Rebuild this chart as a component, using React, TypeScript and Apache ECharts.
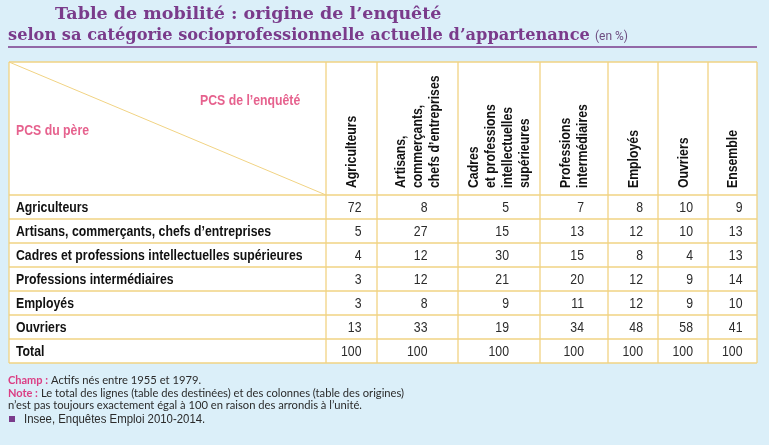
import React, { useEffect, useRef } from "react";
import * as echarts from "echarts";

const fatherCategories = [
  "Agriculteurs",
  "Artisans, commerçants, chefs d’entreprises",
  "Cadres et professions intellectuelles supérieures",
  "Professions intermédiaires",
  "Employés",
  "Ouvriers",
  "Total",
];
const respondentCategories = [
  "Agriculteurs",
  "Artisans,\ncommerçants,\nchefs d’entreprises",
  "Cadres\net professions\nintellectuelles\nsupérieures",
  "Professions\nintermédiaires",
  "Employés",
  "Ouvriers",
  "Ensemble",
];
const agriculteurs = [72, 5, 4, 3, 3, 13, 100];
const artisans = [8, 27, 12, 12, 8, 33, 100];
const cadres = [5, 15, 30, 21, 9, 19, 100];
const professionsInter = [7, 13, 15, 20, 11, 34, 100];
const employes = [8, 12, 8, 12, 12, 48, 100];
const ouvriers = [10, 10, 4, 9, 9, 58, 100];
const ensemble = [9, 13, 13, 14, 10, 41, 100];
const columns = [agriculteurs, artisans, cadres, professionsInter, employes, ouvriers, ensemble];

const titleLine1 = "Table de mobilité : origine de l’enquêté";
const titleLine2 = "selon sa catégorie socioprofessionnelle actuelle d’appartenance";
const titleUnit = "(en %)";
const rowHeaderLabel = "PCS du père";
const colHeaderLabel = "PCS de l’enquêté";
const champLabel = "Champ :";
const champText = "Actifs nés entre 1955 et 1979.";
const noteLabel = "Note :";
const noteLine1 = "Le total des lignes (table des destinées) et des colonnes (table des origines)";
const noteLine2 = "n’est pas toujours exactement égal à 100 en raison des arrondis à l’unité.";
const sourceText = "Insee, Enquêtes Emploi 2010-2014.";

const W = 769;
const H = 445;
const colEdges = [9, 326, 377, 458, 540, 608, 658, 708, 757];
const tableTop = 62;
const headerBottom = 195;
const rowH = 24;

const BG = "#dbeff9";
const GRID = "#f1d383";
const PURPLE = "#7a3b8b";
const PINK = "#e6628e";
const MAGENTA = "#db3e84";
const TEXT = "#2b2b2b";
const SANS = "'Liberation Sans', Arial, sans-serif";
const SERIF = "'DejaVu Serif', 'Liberation Serif', serif";
const ROUND = "Lato, 'Open Sans', sans-serif";

function measure(text: string, font: string): number {
  const ctx = document.createElement("canvas").getContext("2d");
  if (!ctx) return text.length * 7;
  ctx.font = font;
  return ctx.measureText(text).width;
}

export default function App() {
  const ref = useRef<HTMLDivElement>(null);
  useEffect(() => {
    if (!ref.current) return;
    const chart = echarts.init(ref.current, undefined, { renderer: "svg" });
    const els: any[] = [];
    const nRows = fatherCategories.length;
    const tableBottom = headerBottom + nRows * rowH;
    const left = colEdges[0];
    const right = colEdges[colEdges.length - 1];

    const boldFont = `bold 14px ${SANS}`;
    const longest = Math.max(...fatherCategories.map((t) => measure(t, boldFont)));
    const cond = Math.min(1, (colEdges[1] - 16 - 23) / longest);
    const titleFont = `bold 17px ${SERIF}`;
    const title1Scale = 387 / measure(titleLine1, titleFont);
    const title2Scale = 582 / measure(titleLine2, titleFont);
    const footBold = `bold 11px ${ROUND}`;
    const footReg = `11.2px ${ROUND}`;

    els.push({ type: "rect", shape: { x: 0, y: 0, width: W, height: H }, style: { fill: BG }, silent: true });
    els.push({ type: "text", x: 55, y: 13, scaleX: title1Scale, style: { text: titleLine1, font: titleFont, fill: PURPLE, verticalAlign: "middle" } });
    els.push({ type: "text", x: 8, y: 34, scaleX: title2Scale, style: { text: titleLine2, font: titleFont, fill: PURPLE, verticalAlign: "middle" } });
    els.push({ type: "text", x: 595, y: 36, style: { text: titleUnit, font: `12px Roboto, sans-serif`, fill: "#6d4c80", verticalAlign: "middle" } });
    els.push({ type: "line", shape: { x1: 8, y1: 47, x2: 757, y2: 47 }, style: { stroke: PURPLE, lineWidth: 1.5 } });

    els.push({ type: "rect", shape: { x: left, y: tableTop, width: right - left, height: tableBottom - tableTop }, style: { fill: "#ffffff" } });
    const hLines = [tableTop, headerBottom];
    for (let i = 1; i <= nRows; i++) hLines.push(headerBottom + i * rowH);
    hLines.forEach((y) => {
      els.push({ type: "line", shape: { x1: left, y1: y, x2: right, y2: y }, style: { stroke: GRID, lineWidth: 1.3 } });
    });
    colEdges.forEach((x) => {
      els.push({ type: "line", shape: { x1: x, y1: tableTop, x2: x, y2: tableBottom }, style: { stroke: GRID, lineWidth: 1.3 } });
    });
    els.push({ type: "line", shape: { x1: left, y1: tableTop, x2: colEdges[1], y2: headerBottom }, style: { stroke: GRID, lineWidth: 1 } });
    els.push({ type: "text", x: 200, y: 100, scaleX: cond, style: { text: colHeaderLabel, font: `bold 14px ${SANS}`, fill: PINK, verticalAlign: "middle" } });
    els.push({ type: "text", x: 16, y: 130, scaleX: cond, style: { text: rowHeaderLabel, font: `bold 14px ${SANS}`, fill: PINK, verticalAlign: "middle" } });

    respondentCategories.forEach((name, j) => {
      const cx = (colEdges[j + 1] + colEdges[j + 2]) / 2;
      els.push({
        type: "text",
        x: cx,
        y: 188,
        rotation: Math.PI / 2,
        scaleX: cond,
        style: { text: name, font: `bold 14px ${SANS}`, fill: "#111", align: "left", verticalAlign: "middle", lineHeight: 17 },
      });
    });

    fatherCategories.forEach((name, i) => {
      const cy = headerBottom + i * rowH + rowH / 2;
      els.push({ type: "text", x: 16, y: cy, scaleX: cond, style: { text: name, font: boldFont, fill: "#111", verticalAlign: "middle" } });
      columns.forEach((col, j) => {
        const cx = (colEdges[j + 1] + colEdges[j + 2]) / 2;
        els.push({ type: "text", x: cx + 10, y: cy, scaleX: cond, style: { text: String(col[i]), font: `14px ${SANS}`, fill: TEXT, align: "right", verticalAlign: "middle" } });
      });
    });

    const champW = measure(champLabel, footBold);
    const noteW = measure(noteLabel, footBold);
    els.push({ type: "text", x: 8, y: 379, style: { text: champLabel, font: footBold, fill: MAGENTA, verticalAlign: "middle" } });
    els.push({ type: "text", x: 8 + champW + 3, y: 379, style: { text: champText, font: footReg, fill: TEXT, verticalAlign: "middle" } });
    els.push({ type: "text", x: 8, y: 392, style: { text: noteLabel, font: footBold, fill: MAGENTA, verticalAlign: "middle" } });
    els.push({ type: "text", x: 8 + noteW + 3, y: 392, style: { text: noteLine1, font: footReg, fill: TEXT, verticalAlign: "middle" } });
    els.push({ type: "text", x: 8, y: 404, style: { text: noteLine2, font: footReg, fill: TEXT, verticalAlign: "middle" } });
    els.push({ type: "rect", shape: { x: 9, y: 416, width: 6, height: 6 }, style: { fill: PURPLE } });
    els.push({ type: "text", x: 24, y: 419, scaleX: cond, style: { text: sourceText, font: `13px ${SANS}`, fill: TEXT, verticalAlign: "middle" } });

    chart.setOption({ animation: false, graphic: { elements: els } });
    return () => chart.dispose();
  }, []);
  return <div ref={ref} style={{ position: "fixed", left: 0, top: 0, width: W, height: H }} />;
}
